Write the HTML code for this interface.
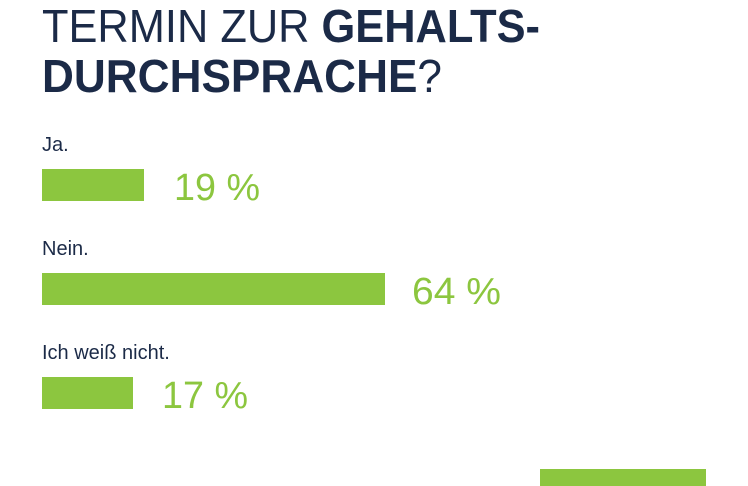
<!DOCTYPE html>
<html><head><meta charset="utf-8"><style>
html,body{margin:0;padding:0;background:#fff;width:748px;height:486px;overflow:hidden}
</style></head><body>
<svg width="748" height="486" xmlns="http://www.w3.org/2000/svg" font-family="Liberation Sans, sans-serif">
<rect width="748" height="486" fill="#fff"/>
<text x="42" y="42" font-size="46" fill="#1b2a47" textLength="498" lengthAdjust="spacingAndGlyphs"><tspan font-weight="300">TERMIN ZUR </tspan><tspan font-weight="bold">GEHALTS-</tspan></text>
<text x="42" y="92" font-size="46" fill="#1b2a47" textLength="400" lengthAdjust="spacingAndGlyphs"><tspan font-weight="bold">DURCHSPRACHE</tspan><tspan>?</tspan></text>
<text x="42" y="151" font-size="20" fill="#1b2a47">Ja.</text>
<rect x="42" y="169" width="102" height="32" fill="#8cc63f"/>
<text x="174" y="200" font-size="38" fill="#8cc63f" textLength="86" lengthAdjust="spacingAndGlyphs">19 %</text>
<text x="42" y="255" font-size="20" fill="#1b2a47">Nein.</text>
<rect x="42" y="273" width="343" height="32" fill="#8cc63f"/>
<text x="412" y="304" font-size="38" fill="#8cc63f" textLength="89" lengthAdjust="spacingAndGlyphs">64 %</text>
<text x="42" y="359" font-size="20" fill="#1b2a47">Ich weiß nicht.</text>
<rect x="42" y="377" width="91" height="32" fill="#8cc63f"/>
<text x="162" y="408" font-size="38" fill="#8cc63f" textLength="86" lengthAdjust="spacingAndGlyphs">17 %</text>
<rect x="540" y="469" width="166" height="17" fill="#8cc63f"/>
</svg>
</body></html>
